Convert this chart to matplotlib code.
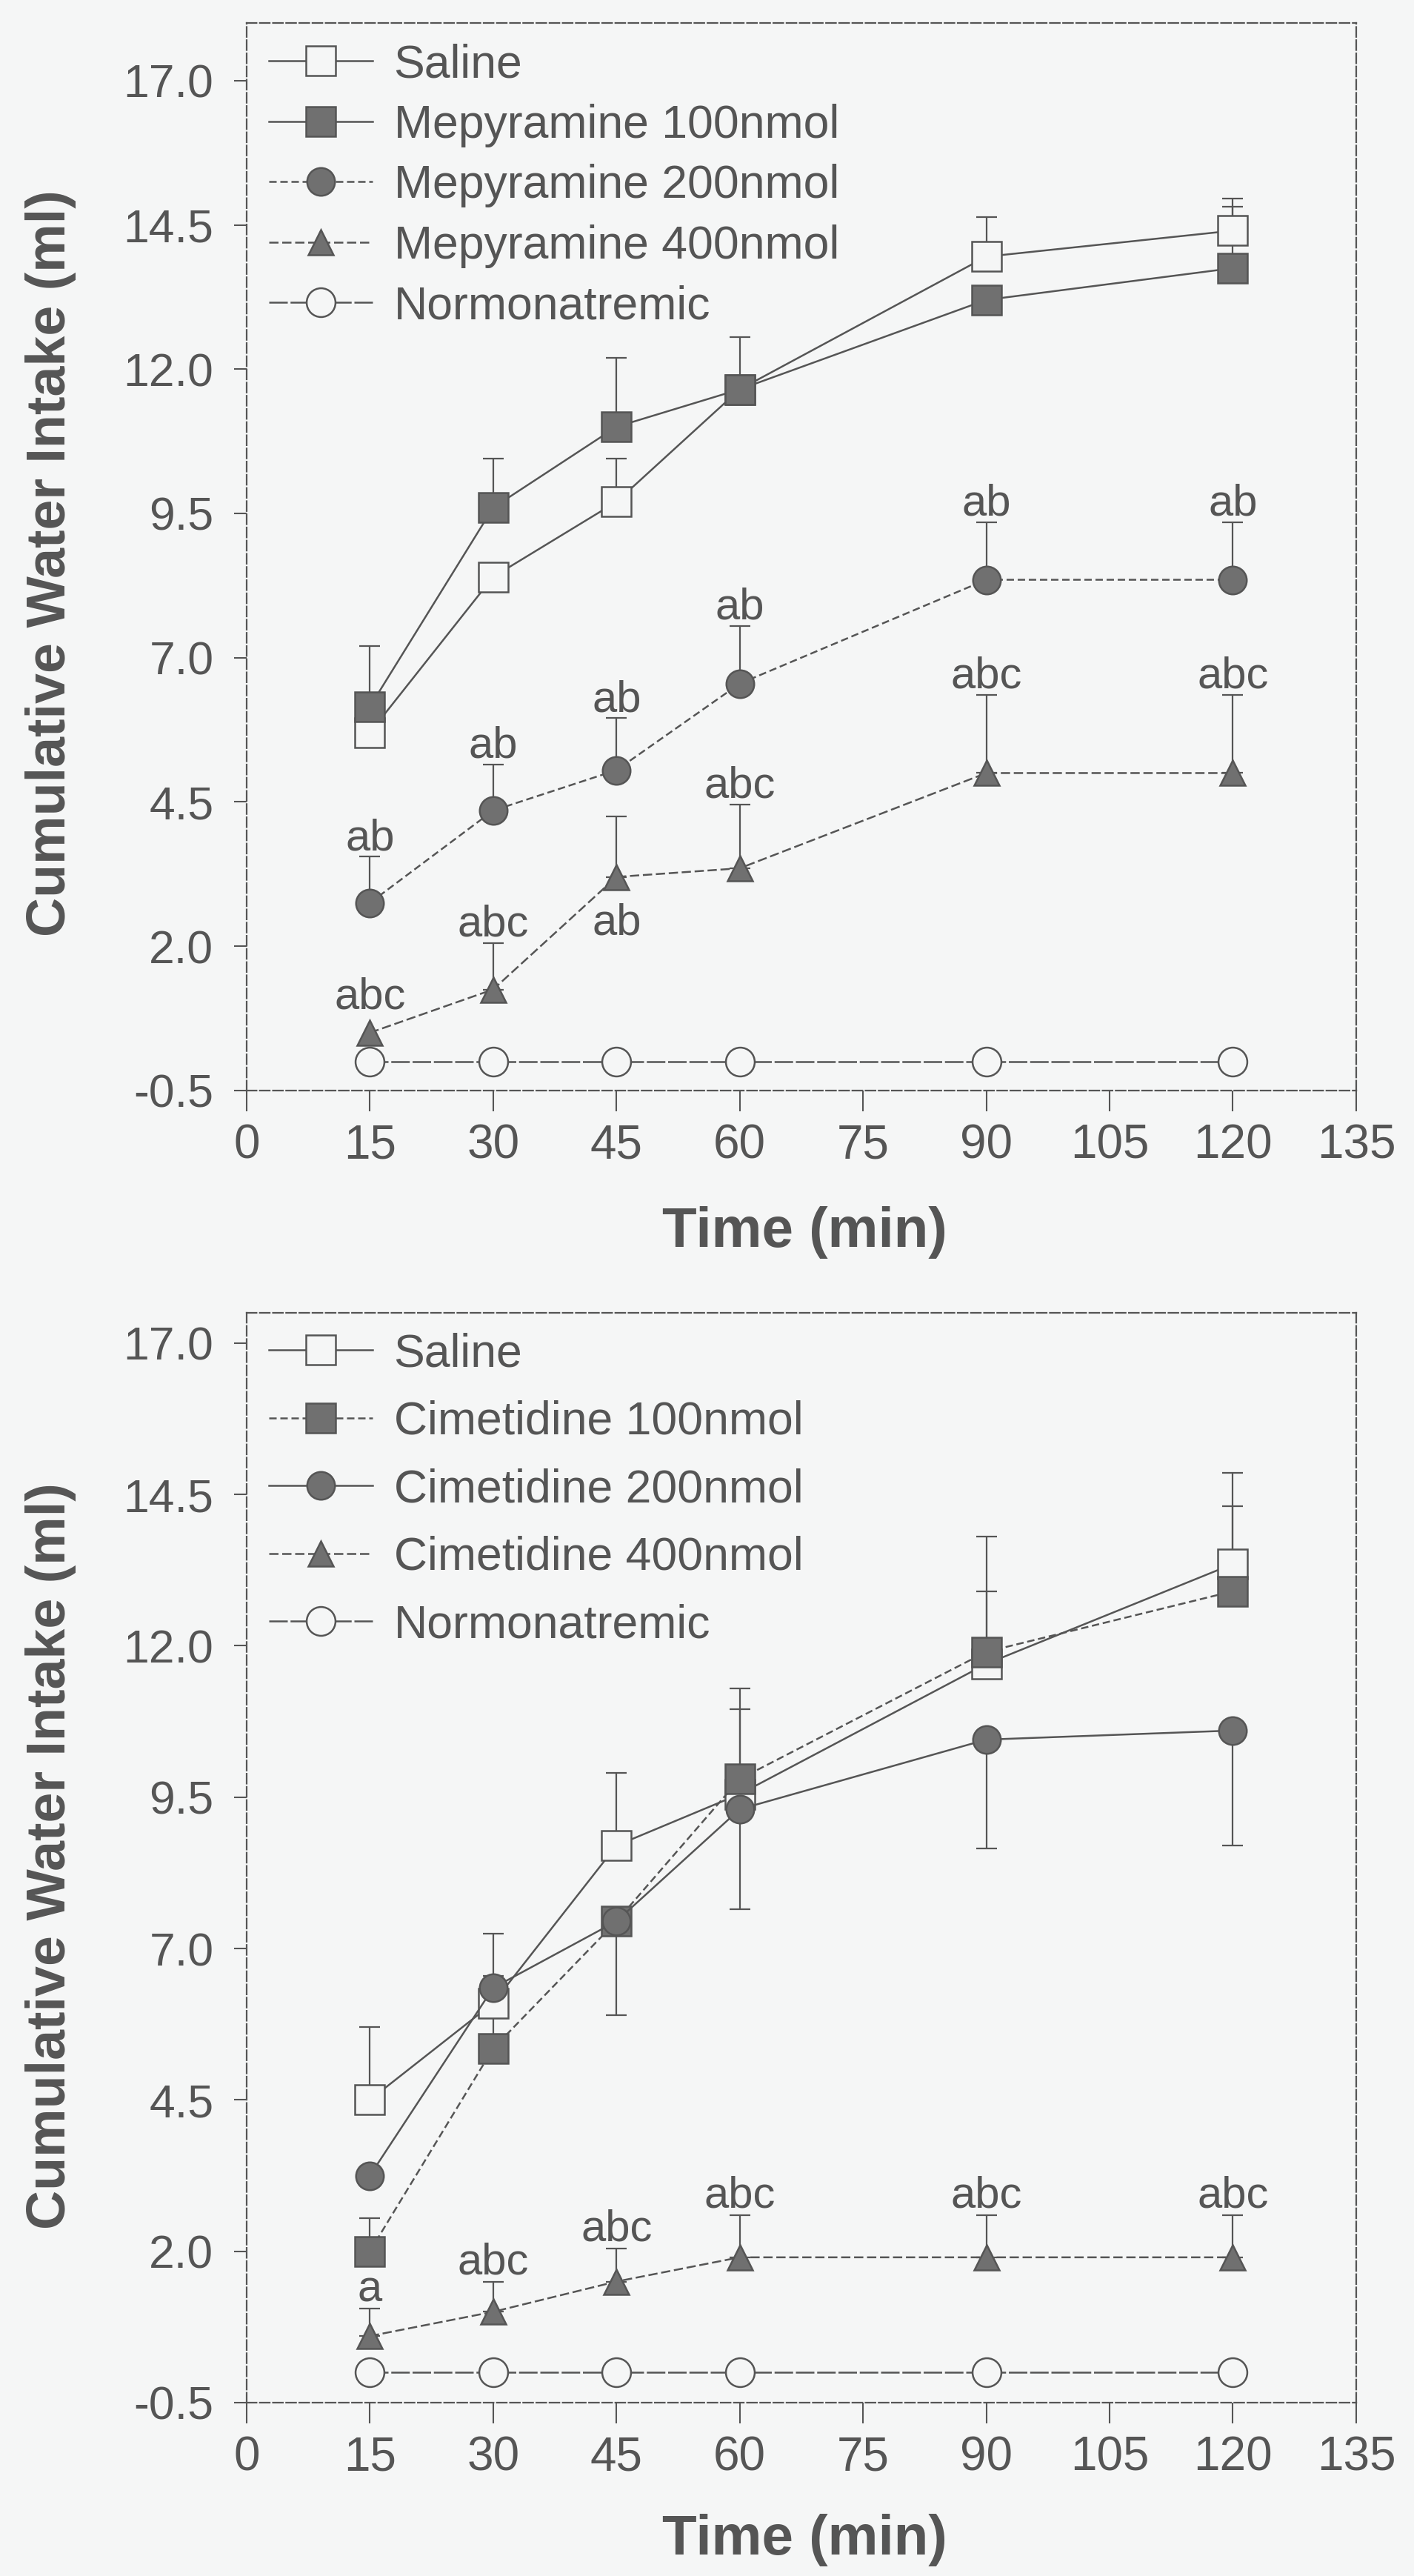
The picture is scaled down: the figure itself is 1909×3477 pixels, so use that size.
import numpy as np
import matplotlib
matplotlib.use("Agg")
import matplotlib.pyplot as plt

plt.rcParams['font.family'] = ['Liberation Sans', 'DejaVu Sans']

INK = "#555555"
FILL = "#707070"
BG = "#f5f6f6"

TIME = [15, 30, 45, 60, 90, 120]
X_TICKS = [0, 15, 30, 45, 60, 75, 90, 105, 120, 135]
Y_TICKS = [-0.5, 2.0, 4.5, 7.0, 9.5, 12.0, 14.5, 17.0]

# top panel: mepyramine
MEP_NAMES = ["Saline", "Mepyramine 100nmol", "Mepyramine 200nmol",
             "Mepyramine 400nmol", "Normonatremic"]
MEP_SALINE = [5.7, 8.4, 9.7, 11.65, 13.95, 14.4]
MEP_SALINE_UP = [0.0, 0.0, 0.75, 0.9, 0.68, 0.42]
MEP_100 = [6.15, 9.6, 11.0, 11.65, 13.2, 13.75]
MEP_100_UP = [1.05, 0.85, 1.2, 0.0, 0.0, 1.2]
MEP_200 = [2.75, 4.35, 5.05, 6.55, 8.35, 8.35]
MEP_200_UP = [0.8, 0.8, 0.9, 1.0, 1.0, 1.0]
MEP_400 = [0.5, 1.25, 3.2, 3.35, 5.0, 5.0]
MEP_400_UP = [0.0, 0.8, 1.05, 1.1, 1.35, 1.35]
MEP_NORMO = [0.0, 0.0, 0.0, 0.0, 0.0, 0.0]
MEP_200_LABELS = ["ab", "ab", "ab", "ab", "ab", "ab"]
MEP_400_LABELS = ["abc", "abc", "ab", "abc", "abc", "abc"]

# bottom panel: cimetidine
CIM_NAMES = ["Saline", "Cimetidine 100nmol", "Cimetidine 200nmol",
             "Cimetidine 400nmol", "Normonatremic"]
CIM_SALINE = [4.5, 6.1, 8.7, 9.55, 11.7, 13.35]
CIM_SALINE_UP = [1.2, 1.15, 1.2, 1.75, 2.1, 1.5]
CIM_100 = [2.0, 5.35, 7.45, 9.8, 11.9, 12.9]
CIM_100_UP = [0.55, 1.2, 0.0, 1.15, 1.0, 1.4]
CIM_200 = [3.25, 6.35, 7.45, 9.3, 10.45, 10.6]
CIM_200_DN = [0.0, 0.0, 1.55, 1.65, 1.8, 1.9]
CIM_400 = [0.6, 1.0, 1.5, 1.9, 1.9, 1.9]
CIM_400_UP = [0.45, 0.5, 0.55, 0.7, 0.7, 0.7]
CIM_NORMO = [0.0, 0.0, 0.0, 0.0, 0.0, 0.0]
CIM_400_LABELS = ["a", "abc", "abc", "abc", "abc", "abc"]

ZEROS = [0.0] * 6


def draw_series(ax, y, up, dn, label, marker, filled, ls, ms):
    x = np.array(TIME)
    y = np.array(y)
    up = np.array(up)
    dn = np.array(dn)
    keep = (up > 0) | (dn > 0)
    if keep.any():
        ax.errorbar(x[keep], y[keep], yerr=[dn[keep], up[keep]], fmt="none",
                    ecolor=INK, elinewidth=1.6, capsize=10, capthick=1.6,
                    zorder=2)
    ax.plot(x, y, linestyle=ls, color=INK, lw=1.8, marker=marker,
            markersize=ms, markerfacecolor=FILL if filled else BG,
            markeredgecolor=INK, markeredgewidth=1.8, label=label, zorder=4)


def put_labels(ax, y, up, labels, below=None):
    for i, txt in enumerate(labels):
        if below is not None and below[i]:
            ax.text(TIME[i], y[i] - 0.8, txt, ha="center", va="center",
                    fontsize=43, color=INK, zorder=5)
        else:
            top = y[i] + up[i] if up[i] > 0 else y[i] + 0.3
            ax.text(TIME[i], top + 0.12, txt, ha="center", va="baseline",
                    fontsize=43, color=INK, zorder=5)


def style_axes(ax, ytop):
    ax.set_facecolor(BG)
    ax.set_xlim(0, 135)
    ax.set_ylim(-0.5, ytop)
    ax.set_xticks(X_TICKS)
    ax.set_yticks(Y_TICKS)
    ax.set_yticklabels([f"{v:.1f}" for v in Y_TICKS])
    for side in ["left", "right", "top", "bottom"]:
        ax.spines[side].set_linestyle((0, (6, 2)))
        ax.spines[side].set_linewidth(1.6)
        ax.spines[side].set_color(INK)
    ax.tick_params(axis="x", length=20, width=1.5, color=INK, pad=12,
                   labelsize=46, labelcolor=INK)
    ax.tick_params(axis="y", length=12, width=1.5, color=INK, pad=20,
                   labelsize=45, labelcolor=INK)


fig = plt.figure(figsize=(19.09, 34.77), dpi=100, facecolor=BG)

# ---- top panel
ax1 = fig.add_axes([0.1744, 0.5767, 0.7847, 0.4144])
style_axes(ax1, 18.0)
draw_series(ax1, MEP_SALINE, MEP_SALINE_UP, ZEROS, MEP_NAMES[0], "s", False, "-", 29)
draw_series(ax1, MEP_100, MEP_100_UP, ZEROS, MEP_NAMES[1], "s", True, "-", 29)
draw_series(ax1, MEP_200, MEP_200_UP, ZEROS, MEP_NAMES[2], "o", True, (0, (4, 2)), 27)
draw_series(ax1, MEP_400, MEP_400_UP, ZEROS, MEP_NAMES[3], "^", True, (0, (5, 2)), 24)
draw_series(ax1, MEP_NORMO, ZEROS, ZEROS, MEP_NAMES[4], "o", False, (0, (10, 1.5)), 28)
put_labels(ax1, MEP_200, MEP_200_UP, MEP_200_LABELS)
put_labels(ax1, MEP_400, MEP_400_UP, MEP_400_LABELS,
           below=[False, False, True, False, False, False])
ax1.legend(loc="upper left", bbox_to_anchor=(0.02, 0.981), frameon=False,
           borderaxespad=0, borderpad=0, fontsize=45, labelcolor=INK,
           handlelength=2.24, handletextpad=0.46, labelspacing=0.36,
           numpoints=1)

# ---- bottom panel
ax2 = fig.add_axes([0.1744, 0.0673, 0.7847, 0.4231])
style_axes(ax2, 17.5)
draw_series(ax2, CIM_SALINE, CIM_SALINE_UP, ZEROS, CIM_NAMES[0], "s", False, "-", 29)
draw_series(ax2, CIM_100, CIM_100_UP, ZEROS, CIM_NAMES[1], "s", True, (0, (4, 2)), 29)
draw_series(ax2, CIM_200, ZEROS, CIM_200_DN, CIM_NAMES[2], "o", True, "-", 27)
draw_series(ax2, CIM_400, CIM_400_UP, ZEROS, CIM_NAMES[3], "^", True, (0, (5, 2)), 24)
draw_series(ax2, CIM_NORMO, ZEROS, ZEROS, CIM_NAMES[4], "o", False, (0, (10, 1.5)), 28)
put_labels(ax2, CIM_400, CIM_400_UP, CIM_400_LABELS)
ax2.legend(loc="upper left", bbox_to_anchor=(0.02, 0.982), frameon=False,
           borderaxespad=0, borderpad=0, fontsize=45, labelcolor=INK,
           handlelength=2.24, handletextpad=0.46, labelspacing=0.52,
           numpoints=1)

# axis titles
for yc in [0.7814, 0.2795]:
    fig.text(0.036, yc, "Cumulative Water Intake (ml)", rotation=90,
             ha="center", va="center", fontsize=53, fontweight="bold",
             color=INK)
for yc in [1 - 1663 / 3477, 1 - 3428 / 3477]:
    fig.text(0.569, yc, "Time (min)", ha="center", va="center",
             fontsize=55, fontweight="bold", color=INK)

fig.savefig("out.png", dpi=100, facecolor=BG)
